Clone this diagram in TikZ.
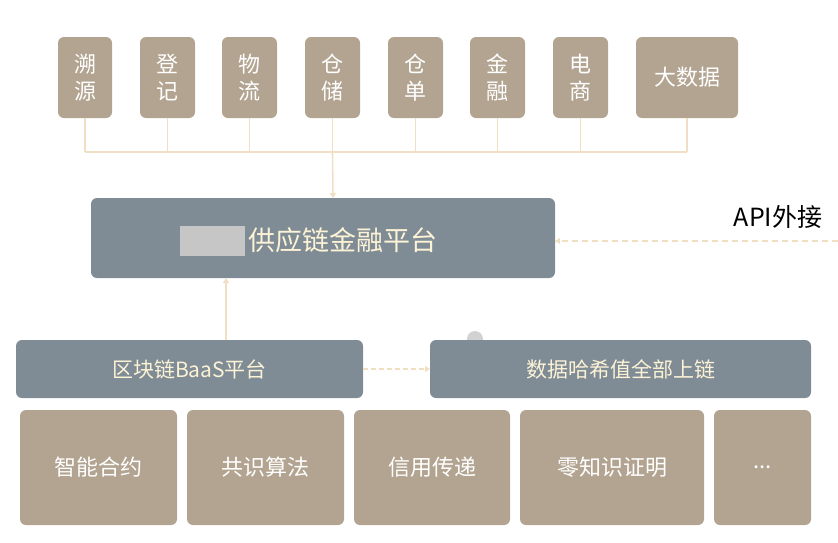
\documentclass[tikz,border=0pt]{standalone}
\usepackage{fontspec}
\setmainfont{Noto Sans CJK SC}
\usetikzlibrary{arrows.meta}
\definecolor{tan}{HTML}{B2A491}
\definecolor{slate}{HTML}{7F8C95}
\definecolor{cream}{HTML}{F1DFC3}
\definecolor{txt}{HTML}{FCF2D6}
\newcommand{\moredots}{.{}.{}.}
\tikzset{
	tanbox/.style={fill=tan,rounded corners=6pt,text=white},
	slatebox/.style={fill=slate,rounded corners=6pt,text=txt},
	link/.style={draw=cream,line width=1.6pt},
	tip/.style={-{Triangle[length=5pt,width=6pt]}}
}
\begin{document}
\begin{tikzpicture}[x=1pt,y=-1pt]
\useasboundingbox (0,0) rectangle (838,542);

%top row of sources
\foreach \name/\txt/\xa/\xb in {s1/溯\\源/58/112,s2/登\\记/140/195,s3/物\\流/222/277,s4/仓\\储/305/360,s5/仓\\单/388/443,s6/金\\融/470/525,s7/电\\商/553/608,s8/大数据/636/738}{
	\path[tanbox] (\xa,37) rectangle (\xb,118);
	\node[text=white,font=\fontsize{22}{27}\selectfont,align=center] (\name) at ({(\xa+\xb)/2},77.5) {\txt};
	\coordinate (b\name) at ({(\xa+\xb)/2},118);
	\coordinate (h\name) at ({(\xa+\xb)/2},152);
	\draw[link] (b\name) -- (h\name);
}
\draw[link] (hs1) -- (hs8);

%platform
\path[slatebox] (91,198) rectangle (555,278);
\fill[gray!45] (180,226) rectangle (245,256);
\node[text=txt,font=\fontsize{27}{32}\selectfont,anchor=west] (plat) at (245,240) {供应链金融平台};
\coordinate (pt) at (333,198);
\coordinate (pb) at (226,278);
\coordinate (pr) at (555,241);
\draw[link,tip] (hs4) -- (pt);

\node[font=\fontsize{25}{30}\selectfont] (api) at (778,217) {API外接};
\coordinate (ae) at (838,241);
\draw[link,dash pattern=on 6pt off 4pt,tip] (ae) -- (pr);

%middle layer
\path[slatebox] (16,340) rectangle (363,398);
\node[text=txt,font=\fontsize{21}{25}\selectfont] (baas) at (189.5,369) {区块链BaaS平台};
\fill[gray!35] (475,339) circle (8);
\path[slatebox] (430,340) rectangle (811,398);
\node[text=txt,font=\fontsize{21}{25}\selectfont] (hash) at (620.5,369) {数据哈希值全部上链};
\coordinate (bt) at (226,340);
\coordinate (br) at (363,369);
\coordinate (hl) at (430,369);
\draw[link,tip] (bt) -- (pb);
\draw[link,dash pattern=on 5pt off 3pt,tip] (br) -- (hl);

%bottom row
\foreach \name/\txt/\xa/\xb in {c1/智能合约/20/177,c2/共识算法/187/344,c3/信用传递/354/510,c4/零知识证明/520/704,c5/\moredots/714/811}{
	\path[tanbox] (\xa,410) rectangle (\xb,525);
	\node[text=white,font=\fontsize{22}{27}\selectfont] (\name) at ({(\xa+\xb)/2},467) {\txt};
}
\end{tikzpicture}
\end{document}
